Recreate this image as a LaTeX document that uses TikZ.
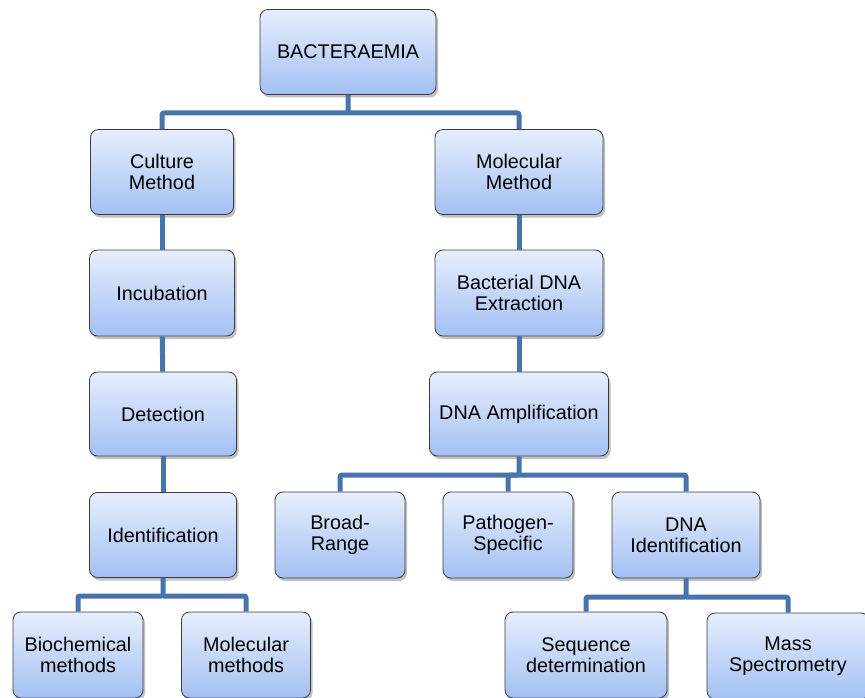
\documentclass[tikz,border=0pt]{standalone}
\usepackage{fontspec}
\setmainfont{Liberation Sans}
\usetikzlibrary{shadows}
\definecolor{topc}{HTML}{E6EEFC}
\definecolor{botc}{HTML}{A3C0F3}
\definecolor{linec}{HTML}{4874AC}
\definecolor{edgec}{HTML}{3C3C3C}
\tikzset{
  box/.style={draw=edgec, line width=0.8pt, rounded corners=8pt,
    top color=topc, bottom color=botc, align=center,
    font=\fontsize{19.8}{21}\selectfont, inner sep=2pt,
    drop shadow={shadow xshift=2pt, shadow yshift=-3pt, opacity=0.35, fill=black!70}},
  conn/.style={draw=linec, line width=5pt, rounded corners=2pt}
}
\begin{document}
\begin{tikzpicture}[x=1pt,y=-1pt]
\useasboundingbox (0,0) rectangle (865,698);
\node[box, minimum width=176pt, minimum height=85pt] (bact) at (348,52) {BACTERAEMIA};
\node[box, minimum width=143pt, minimum height=85pt] (cult) at (162,172) {Culture\\Method};
\node[box, minimum width=168pt, minimum height=85pt] (molm) at (519,172) {Molecular\\Method};
\node[box, minimum width=145pt, minimum height=86pt] (incu) at (162,293) {Incubation};
\node[box, minimum width=168pt, minimum height=86pt] (extr) at (519,293) {Bacterial DNA\\Extraction};
\node[box, minimum width=147pt, minimum height=84pt] (dete) at (163,414) {Detection};
\node[box, minimum width=179pt, minimum height=84pt] (ampl) at (519,414) {DNA Amplification};
\node[box, minimum width=147pt, minimum height=85pt] (iden) at (163,535) {Identification};
\node[box, minimum width=130pt, minimum height=86pt] (broa) at (340,535) {Broad-\\Range};
\node[box, minimum width=130pt, minimum height=86pt] (path) at (508,535) {Pathogen-\\Specific};
\node[box, minimum width=148pt, minimum height=86pt] (dnai) at (686,535) {DNA\\Identification};
\node[box, minimum width=130pt, minimum height=86pt] (bioc) at (78,655) {Biochemical\\methods};
\node[box, minimum width=129pt, minimum height=86pt] (molc) at (246,655) {Molecular\\methods};
\node[box, minimum width=162pt, minimum height=86pt] (sequ) at (586,655) {Sequence\\determination};
\node[box, minimum width=162pt, minimum height=86pt] (mass) at (788,656) {Mass\\Spectrometry};
\coordinate (bar1) at (0,113);
\coordinate (bar2) at (0,475);
\coordinate (bar3) at (0,596);
\coordinate (bar4) at (0,597);
\draw[conn] (bact.south) -- (bact.south |- bar1) -| (cult.north);
\draw[conn] (bact.south |- bar1) -| (molm.north);
\draw[conn] (cult) -- (incu);
\draw[conn] (incu) -- (dete);
\draw[conn] (dete) -- (iden);
\draw[conn] (molm) -- (extr);
\draw[conn] (extr) -- (ampl);
\draw[conn] (ampl.south) -- (ampl.south |- bar2) -| (broa.north);
\draw[conn] (ampl.south |- bar2) -| (path.north);
\draw[conn] (ampl.south |- bar2) -| (dnai.north);
\draw[conn] (iden.south) -- (iden.south |- bar3) -| (bioc.north);
\draw[conn] (iden.south |- bar3) -| (molc.north);
\draw[conn] (dnai.south) -- (dnai.south |- bar4) -| (sequ.north);
\draw[conn] (dnai.south |- bar4) -| (mass.north);
\end{tikzpicture}
\end{document}
